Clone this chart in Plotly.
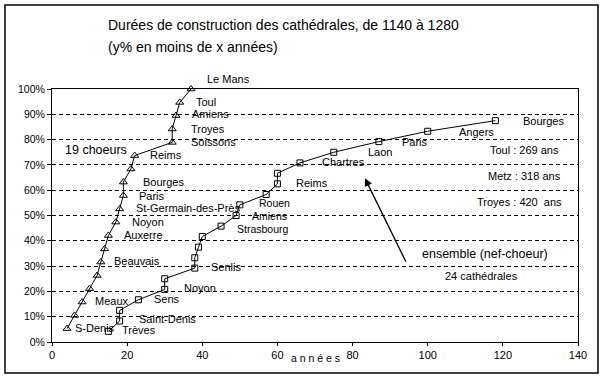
import plotly.graph_objects as go

# ---- data ----
choeur_years = [4, 6, 8, 10, 12, 13, 14, 15, 17, 18, 19, 19, 21, 22, 32, 32, 33, 34, 37]
choeur_pct = [5.3, 10.5, 15.8, 21.1, 26.3, 31.6, 36.8, 42.1, 47.4, 52.6,
              57.9, 63.2, 68.4, 73.7, 78.9, 84.2, 89.5, 94.7, 100.0]

ens_years = [15, 18, 18, 23, 30, 30, 38, 38, 39, 40, 45, 49, 50, 57, 60, 60, 66, 75, 87, 100, 118]
ens_pct = [4.2, 8.3, 12.5, 16.7, 20.8, 25.0, 29.2, 33.3, 37.5, 41.7, 45.8, 50.0,
           54.2, 58.3, 62.5, 66.7, 70.8, 75.0, 79.2, 83.3, 87.5]

x_ticks = [0, 20, 40, 60, 80, 100, 120, 140]
y_ticks = [0, 10, 20, 30, 40, 50, 60, 70, 80, 90, 100]
y_ticktext = ["0%", "10%", "20%", "30%", "40%", "50%", "60%", "70%", "80%", "90%", "100%"]

title_lines = ["Durées de construction des cathédrales, de 1140 à 1280",
               "(y% en moins de x années)"]

# point labels: text, x (years), y (%)
labels = [
    ("Toul", 38.1, 94.7), ("Amiens", 36.9, 90.0),
    ("Troyes", 36.8, 84.1), ("Soissons", 36.7, 79.2), ("Reims", 25.8, 73.9),
    ("Bourges", 24.0, 63.1), ("Paris", 23.0, 57.8), ("St-Germain-des-Près", 22.1, 53.0),
    ("Noyon", 20.9, 47.4), ("Auxerre", 19.0, 42.4), ("Beauvais", 16.2, 32.0),
    ("Meaux", 11.2, 16.3), ("S-Denis", 5.9, 5.5),
    ("Trèves", 18.3, 4.7), ("Saint-Denis", 22.8, 9.1), ("Sens", 27.0, 17.1),
    ("Noyon", 34.8, 21.2), ("Senlis", 42.0, 29.8), ("Reims", 64.7, 63.0),
    ("Chartres", 71.6, 71.1), ("Laon", 83.8, 75.2), ("Paris", 92.9, 78.9),
    ("Angers", 108.1, 83.0), ("Bourges", 125.0, 87.5),
    ("Toul : 269 ans", 116.4, 75.8), ("Metz : 318 ans", 115.9, 65.5),
    ("Troyes : 420  ans", 112.8, 55.5), ("24 cathédrales", 104.4, 26.2),
]
# tightly stacked labels (slightly smaller)
stacked_labels = [("Strasbourg", 48.9, 44.6), ("Amiens", 53.0, 49.8), ("Rouen", 54.7, 55.1)]
big_labels = [("19 choeurs", 3.0, 75.9), ("ensemble (nef-choeur)", 97.9, 34.8)]

FONT = "Liberation Sans, Arial, sans-serif"

fig = go.Figure()
fig.add_trace(go.Scatter(
    x=choeur_years, y=choeur_pct, mode="lines+markers",
    line=dict(color="black", width=1),
    marker=dict(symbol="triangle-up-open", size=7, color="black", line=dict(width=1)),
    cliponaxis=False, showlegend=False, hoverinfo="skip"))
fig.add_trace(go.Scatter(
    x=ens_years, y=ens_pct, mode="lines+markers",
    line=dict(color="black", width=1),
    marker=dict(symbol="square-open", size=6, color="black", line=dict(width=1)),
    cliponaxis=False, showlegend=False, hoverinfo="skip"))

annotations = []
for t, x, y in labels:
    annotations.append(dict(text=t, x=x, y=y, xref="x", yref="y", showarrow=False,
                            xanchor="left", yanchor="middle", borderpad=0,
                            font=dict(family=FONT, size=11, color="black")))
for t, x, y in stacked_labels:
    annotations.append(dict(text=t, x=x, y=y, xref="x", yref="y", showarrow=False,
                            xanchor="left", yanchor="middle", borderpad=0,
                            font=dict(family=FONT, size=10.5, color="black")))
for t, x, y in big_labels:
    annotations.append(dict(text=t, x=x, y=y, xref="x", yref="y", showarrow=False,
                            xanchor="left", yanchor="middle",
                            font=dict(family=FONT, size=12.5, color="black")))
# label above the plot area (y outside the axis range -> paper y)
annotations.append(dict(text="Le Mans", x=40.8, y=1.0395, xref="x", yref="paper",
                        showarrow=False, xanchor="left", yanchor="middle",
                        font=dict(family=FONT, size=11, color="black")))
# arrow
annotations.append(dict(x=83.3, y=64.7, ax=94.4, ay=31.1, xref="x", yref="y",
                        axref="x", ayref="y", showarrow=True, arrowhead=2,
                        arrowsize=1.2, arrowwidth=1.3, arrowcolor="black", text=""))
# title
annotations.append(dict(text=title_lines[0], x=0.1027, y=1.253, xref="paper", yref="paper",
                        showarrow=False, xanchor="left", yanchor="middle",
                        font=dict(family=FONT, size=14, color="black")))
annotations.append(dict(text=title_lines[1], x=0.1027, y=1.165, xref="paper", yref="paper",
                        showarrow=False, xanchor="left", yanchor="middle",
                        font=dict(family=FONT, size=14, color="black")))
# x axis title
annotations.append(dict(text="a n n é e s", x=0.5, y=-0.063, xref="paper", yref="paper",
                        showarrow=False, xanchor="center", yanchor="middle",
                        font=dict(family=FONT, size=10.5, color="black")))

fig.update_layout(
    width=605, height=380,
    margin=dict(l=52, r=27, t=89, b=38),
    paper_bgcolor="white", plot_bgcolor="white",
    font=dict(family=FONT, size=11, color="black"),
    annotations=annotations,
    shapes=[dict(type="rect", xref="paper", yref="paper",
                 x0=-0.0894, x1=1.038, y0=-0.1225, y1=1.332,
                 line=dict(color="black", width=1.5), fillcolor="rgba(0,0,0,0)")],
    xaxis=dict(range=[0, 140], tickvals=x_ticks, showgrid=False, zeroline=False,
               showline=True, mirror=True, linecolor="black", linewidth=1,
               ticks="outside", ticklen=3, tickcolor="black",
               tickfont=dict(family=FONT, size=11), automargin=False),
    yaxis=dict(range=[0, 100], tickvals=y_ticks, ticktext=y_ticktext,
               showgrid=True, gridcolor="black", gridwidth=1, griddash="4px,3px",
               zeroline=False, showline=True, mirror=True, linecolor="black", linewidth=1,
               ticks="outside", ticklen=4, tickcolor="black",
               tickfont=dict(family=FONT, size=10.5), automargin=False),
)

fig.write_html("out.html", config={"displayModeBar": False},
               post_script="document.body.style.margin='0';document.body.style.overflow='hidden';")
